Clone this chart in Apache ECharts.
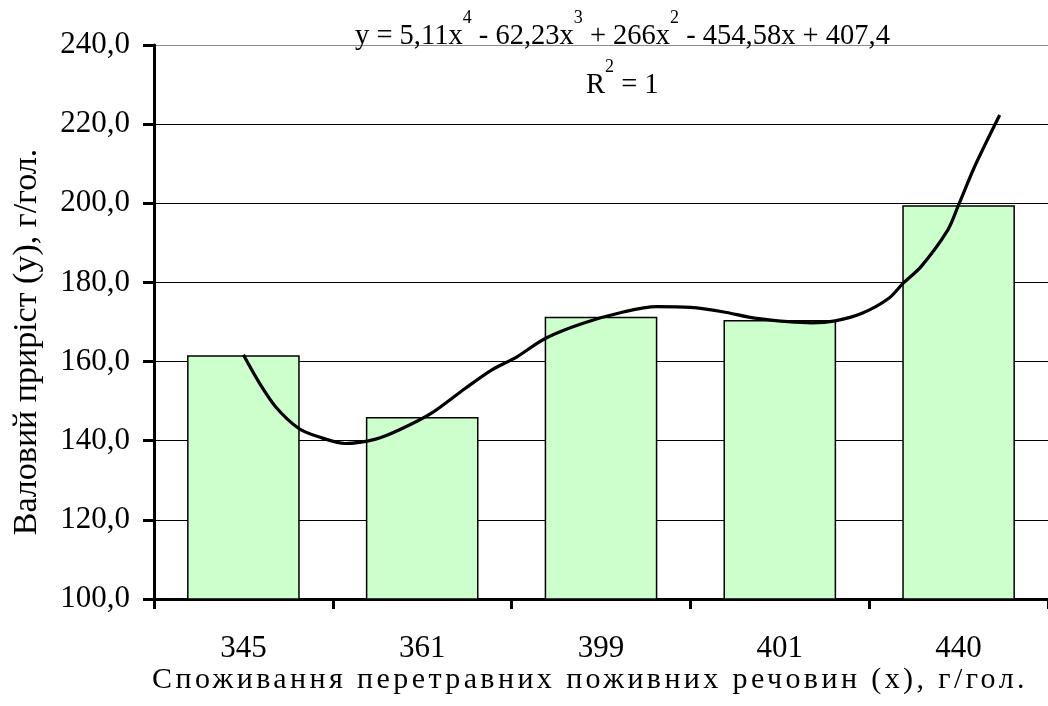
<!DOCTYPE html>
<html>
<head>
<meta charset="utf-8">
<script src="https://cdn.jsdelivr.net/npm/echarts@6/dist/echarts.min.js"></script>
<style>
html,body{margin:0;padding:0;background:#fff;}
#c{width:1048px;height:706px;}
</style>
</head>
<body>
<div id="c"></div>
<script>
// ---- data ----
const categories = ['345', '361', '399', '401', '440'];
const barValues = [161.6, 146.0, 171.3, 170.5, 199.5];
const yTicks = [100, 120, 140, 160, 180, 200, 220, 240];
// trend curve (x in category units 1..5)
const trendX = [1.00,1.08,1.18,1.31,1.42,1.57,1.74,1.87,2.05,2.24,2.39,2.53,2.69,2.90,3.13,3.31,3.50,3.68,3.87,4.18,4.31,4.46,4.61,4.69,4.79,4.94,5.00,5.09,5.23];
const trendY = [161.7,155.3,148.6,143.1,141.0,139.3,140.4,142.7,146.9,153.2,157.9,161.2,165.9,169.7,172.6,173.9,173.7,172.6,170.9,169.8,170.3,172.2,176.0,179.8,184.0,193.3,199.6,209.3,222.3];
const yTitle = 'Валовий приріст (у), г/гол.';
const xTitle = 'Споживання перетравних поживних речовин (х), г/гол.';

const serif = '"Liberation Serif", "Times New Roman", serif';
const chart = echarts.init(document.getElementById('c'), null, {renderer: 'canvas'});

const trendData = trendX.map((x, i) => [x, trendY[i]]);
const splitColors = yTicks.map((v, i) => i === yTicks.length - 1 ? '#8c8c8c' : '#000');

const supRich = {
  m: {fontFamily: serif, fontSize: 28.5, fill: '#000', verticalAlign: 'bottom', lineHeight: 42},
  s: {fontFamily: serif, fontSize: 18, fill: '#000', verticalAlign: 'top', lineHeight: 18}
};

const option = {
  backgroundColor: '#fff',
  animation: false,
  grid: {left: 154, right: -6, top: 45, bottom: 107, containLabel: false},
  xAxis: [{
    type: 'category',
    data: categories,
    boundaryGap: true,
    axisLine: {lineStyle: {color: '#000', width: 3}},
    axisTick: {show: true, length: 10, lineStyle: {color: '#000', width: 3}},
    axisLabel: {color: '#000', fontFamily: serif, fontSize: 31, margin: 34}
  }, {
    type: 'value',
    min: 0.5, max: 5.5,
    show: false
  }],
  yAxis: [{
    type: 'value',
    min: yTicks[0], max: yTicks[yTicks.length - 1], interval: 20,
    axisLine: {show: true, lineStyle: {color: '#000', width: 3}},
    axisTick: {show: true, length: 11, lineStyle: {color: '#000', width: 3}},
    axisLabel: {color: '#000', fontFamily: serif, fontSize: 31, margin: 24,
      formatter: v => v.toFixed(1).replace('.', ',')},
    splitLine: {show: true, lineStyle: {color: splitColors, width: 1}}
  }],
  series: [{
    type: 'bar',
    data: barValues,
    xAxisIndex: 0, yAxisIndex: 0,
    barCategoryGap: '37%',
    itemStyle: {color: '#ccffcc', borderColor: '#000', borderWidth: 1.5},
    z: 2
  }, {
    type: 'line',
    data: trendData,
    xAxisIndex: 1, yAxisIndex: 0,
    smooth: 0.3,
    showSymbol: false,
    symbol: 'none',
    lineStyle: {color: '#000', width: 3.2},
    z: 3
  }],
  graphic: [{
    type: 'text',
    x: 27, y: 342,
    rotation: Math.PI / 2,
    style: {text: yTitle, fill: '#000', font: '34px ' + serif,
      align: 'center', verticalAlign: 'middle', textAlign: 'center', textVerticalAlign: 'middle'}
  }, {
    type: 'text',
    zlevel: 1,
    x: 590, y: 680,
    style: {text: xTitle, fill: '#000', font: '30px ' + serif,
      align: 'center', verticalAlign: 'middle', textAlign: 'center', textVerticalAlign: 'middle'}
  }, {
    type: 'text',
    x: 355, y: 30,
    z: 10,
    style: {
      text: '{m|y = 5,11x}{s|4}{m| - 62,23x}{s|3}{m| + 266x}{s|2}{m| - 454,58x + 407,4}',
      fill: '#000',
      align: 'left', verticalAlign: 'middle', textAlign: 'left', textVerticalAlign: 'middle',
      rich: supRich
    }
  }, {
    type: 'text',
    x: 586, y: 79,
    z: 10,
    style: {
      text: '{m|R}{s|2}{m| = 1}',
      fill: '#000',
      align: 'left', verticalAlign: 'middle', textAlign: 'left', textVerticalAlign: 'middle',
      rich: supRich
    }
  }]
};
chart.setOption(option);

// widen the letter spacing of the x-axis title (drawn on its own layer)
try {
  const zr = chart.getZr();
  const layer = zr.painter.getLayer(1);
  if (layer && layer.ctx && ('letterSpacing' in layer.ctx)) {
    layer.ctx.letterSpacing = '3.4px';
    zr.painter.refresh(true);
  }
} catch (e) {}
</script>
</body>
</html>
